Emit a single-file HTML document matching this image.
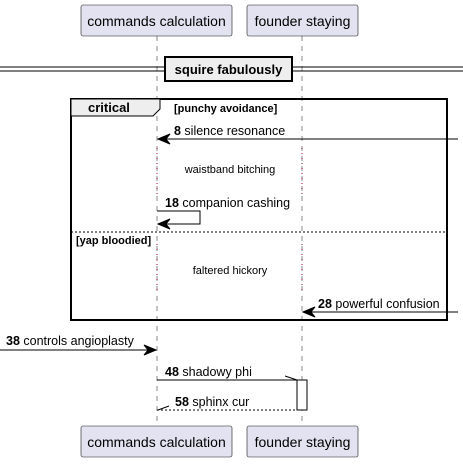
<!DOCTYPE html>
<html><head><style>body{margin:0;background:#fff}</style></head><body>
<svg width="463" height="464" xmlns="http://www.w3.org/2000/svg" font-family="Liberation Sans, sans-serif">
<g stroke="#888" stroke-dasharray="5,5" stroke-width="1">
<line x1="157" y1="36" x2="157" y2="426"/><line x1="302" y1="36" x2="302" y2="426"/>
</g>
<g stroke="#a0003a" stroke-dasharray="1,4" stroke-width="1">
<line x1="157" y1="148" x2="157" y2="196"/><line x1="302" y1="148" x2="302" y2="196"/>
<line x1="157" y1="244" x2="157" y2="290"/><line x1="302" y1="244" x2="302" y2="290"/>
</g>
<g fill="#e2e2f0" stroke="#181818" stroke-width="0.6">
<rect x="81" y="5" width="151" height="31" rx="2"/><rect x="247" y="5" width="111" height="31" rx="2"/>
<rect x="81" y="426" width="151" height="31" rx="2"/><rect x="247" y="426" width="111" height="31" rx="2"/>
</g>
<g font-size="14" fill="#000" text-anchor="middle">
<text x="156.5" y="26">commands calculation</text><text x="302.5" y="26">founder staying</text>
<text x="156.5" y="447">commands calculation</text><text x="302.5" y="447">founder staying</text>
</g>
<g stroke="#000" stroke-width="1"><line x1="0" y1="67" x2="463" y2="67"/><line x1="0" y1="71" x2="463" y2="71"/></g>
<rect x="165" y="57" width="127" height="24" fill="#eee" stroke="#000" stroke-width="2"/>
<text x="228.5" y="74" font-size="13" font-weight="bold" text-anchor="middle">squire fabulously</text>
<rect x="71" y="99" width="376" height="221" fill="none" stroke="#000" stroke-width="2"/>
<path d="M71,99 H160 V109 L153,116 H71 Z" fill="#eee" stroke="#000" stroke-width="1"/>
<text x="88" y="112" font-size="13" font-weight="bold">critical</text>
<text x="174" y="112" font-size="11" font-weight="bold">[punchy avoidance]</text>
<line x1="71" y1="232" x2="447" y2="232" stroke="#000" stroke-dasharray="2,2"/>
<text x="76" y="244" font-size="11" font-weight="bold">[yap bloodied]</text>
<g stroke="#000" stroke-width="1" fill="none">
<line x1="158" y1="139" x2="458" y2="139"/>
<path d="M157,211 H200 V224 H158"/>
<line x1="303" y1="312" x2="458" y2="312"/>
<line x1="0" y1="350" x2="156" y2="350"/>
<line x1="157" y1="380" x2="297" y2="380"/><path d="M285,376 L297,380"/>
<line x1="157" y1="410" x2="297" y2="410" stroke-dasharray="2,2"/><path d="M169,406 L158,410"/>
</g>
<g fill="#000" stroke="#000" stroke-width="1">
<path d="M158,139 L170,134 L166,139 L170,144 Z"/>
<path d="M158,224 L170,219 L166,224 L170,229 Z"/>
<path d="M303,312 L315,307 L311,312 L315,317 Z"/>
<path d="M156,350 L144,345 L148,350 L144,355 Z"/>
</g>
<rect x="297" y="380" width="10" height="30" fill="#fff" stroke="#000"/>
<g font-size="12.5" fill="#000">
<text x="174" y="135"><tspan font-weight="bold">8</tspan> silence resonance</text>
<text x="165" y="207"><tspan font-weight="bold">18</tspan> companion cashing</text>
<text x="318" y="308"><tspan font-weight="bold">28</tspan> powerful confusion</text>
<text x="6" y="345"><tspan font-weight="bold">38</tspan> controls angioplasty</text>
<text x="165" y="376"><tspan font-weight="bold">48</tspan> shadowy phi</text>
<text x="175" y="406"><tspan font-weight="bold">58</tspan> sphinx cur</text>
</g>
<g font-size="11" text-anchor="middle"><text x="230" y="173">waistband bitching</text><text x="230" y="274">faltered hickory</text></g>
</svg>
</body></html>
